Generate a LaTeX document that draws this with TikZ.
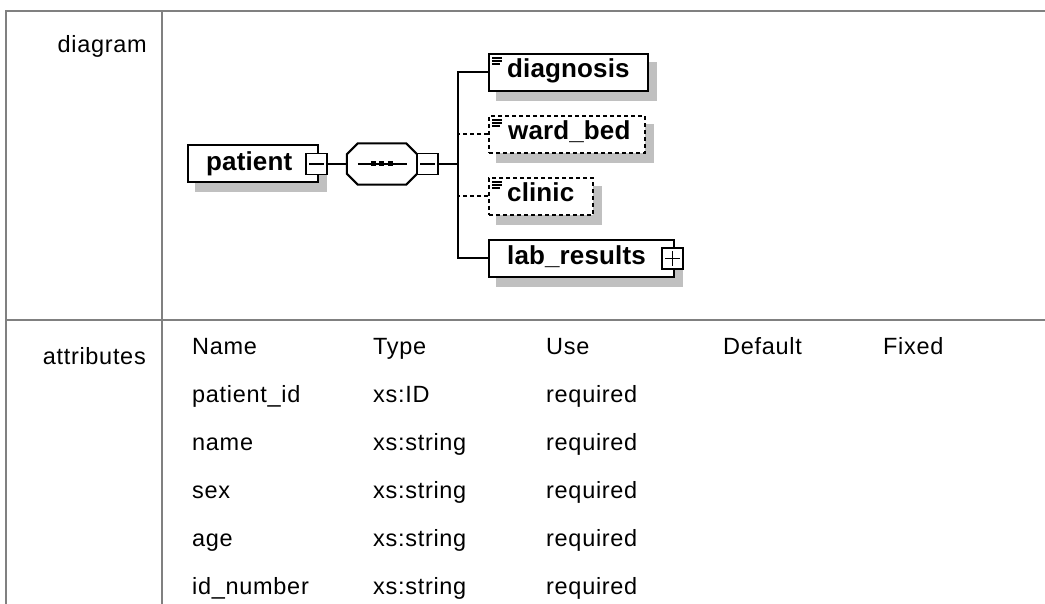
\documentclass[tikz,border=0pt]{standalone}
\usepackage{fontspec}
\setmainfont{Liberation Sans}
\newfontfamily\cellfamily[LetterSpace=3]{Liberation Sans}
\newfontfamily\elemfamily[LetterSpace=0.5]{Liberation Sans}
\usetikzlibrary{calc,backgrounds}
\definecolor{gridgray}{HTML}{808080}
\definecolor{shadowgray}{HTML}{C0C0C0}
\newcommand{\cellfont}{\cellfamily\fontsize{23.5}{28}\selectfont}
\newcommand{\elemfont}{\elemfamily\fontsize{26}{30}\selectfont\bfseries}
% grey drop shadow under a named box
\newcommand{\boxshade}[1]{\fill[shadowgray] ([shift={(8,9)}]#1.north west) rectangle ([shift={(8,9)}]#1.south east);}
% "simple content" mark in the top left corner of an element box
\newcommand{\contentmark}[1]{%
  \draw[markline] ($(#1.north west)+(4,5)$) -- +(10,0);
  \draw[markline] ($(#1.north west)+(4,8)$) -- +(10,0);
  \draw[markline] ($(#1.north west)+(4,11)$) -- +(8,0);}
\begin{document}
\begin{tikzpicture}[x=1pt,y=-1pt,
  grid/.style={draw=gridgray,line width=2.6pt},
  cell/.style={font=\cellfont,inner sep=0pt,anchor=base west},
  head/.style={font=\cellfont,inner sep=0pt,anchor=base east},
  elembox/.style={draw=black,line width=2pt,fill=white,minimum height=37pt,inner sep=0pt,anchor=west},
  optbox/.style={elembox,dash pattern=on 4pt off 3pt},
  elemtext/.style={font=\elemfont,inner sep=0pt,anchor=base west},
  pmbox/.style={draw=black,line width=1.7pt,fill=white,minimum size=21pt,inner sep=0pt},
  conn/.style={draw=black,line width=2pt},
  optconn/.style={conn,dash pattern=on 4pt off 3pt},
  markline/.style={draw=black,line width=1.2pt},
  seqline/.style={draw=black,line width=1.8pt}]
\useasboundingbox (0,0) rectangle (1045,604);

% table rules
\draw[grid] (1045,11) -- (6,11) -- (6,604);
\draw[grid] (162,11) -- (162,604);
\draw[grid] (6,320) -- (1045,320);

% row headings
\node[head] (hdiagram) at (147,53) {diagram};
\node[head] (hattr) at (146,364) {attributes};

% attribute table
\node[cell] (cname) at (192,354) {Name};
\node[cell] (ctype) at (373,354) {Type};
\node[cell] (cuse) at (546,354) {Use};
\node[cell] (cdef) at (723,354) {Default};
\node[cell] (cfix) at (883,354) {Fixed};
\foreach \n/\t [count=\i] in {patient\_id/xs:ID,name/xs:string,sex/xs:string,age/xs:string,id\_number/xs:string}{
  \node[cell] (an\i) at (192,354+48*\i) {\n};
  \node[cell] (at\i) at (373,354+48*\i) {\t};
  \node[cell] (au\i) at (546,354+48*\i) {required};
}

% element boxes
\node[elembox,minimum width=130pt] (patient) at (187,164) {};
\node[minimum width=70pt,minimum height=41pt,inner sep=0pt] (seq) at (382,164) {};
\node[elembox,minimum width=159pt] (diag) at (488,72.5) {};
\node[optbox,minimum width=156pt] (ward) at (488,134.5) {};
\node[optbox,minimum width=104pt] (clinic) at (488,196.5) {};
\node[elembox,minimum width=185pt] (lab) at (488,258.5) {};

% shadows
\begin{pgfonlayer}{background}
  \boxshade{patient}
  \boxshade{diag}
  \boxshade{ward}
  \boxshade{clinic}
  \boxshade{lab}
  \fill[shadowgray,shift={(8,9)}]
    ($(seq.north west)+(11,0)$) -- ($(seq.north east)+(-11,0)$) -- ($(seq.north east)+(0,11)$)
    -- ($(seq.south east)+(0,-11)$) -- ($(seq.south east)+(-11,0)$) -- ($(seq.south west)+(11,0)$)
    -- ($(seq.south west)+(0,-11)$) -- ($(seq.north west)+(0,11)$) -- cycle;
\end{pgfonlayer}

% sequence compositor
\draw[conn,fill=white]
  ($(seq.north west)+(11,0)$) -- ($(seq.north east)+(-11,0)$) -- ($(seq.north east)+(0,11)$)
  -- ($(seq.south east)+(0,-11)$) -- ($(seq.south east)+(-11,0)$) -- ($(seq.south west)+(11,0)$)
  -- ($(seq.south west)+(0,-11)$) -- ($(seq.north west)+(0,11)$) -- cycle;
\draw[seqline] ($(seq.west)+(11,0)$) -- ($(seq.east)+(-10,0)$);
\foreach \dx in {-9,-0.5,8}
  \fill ($(seq.center)+(\dx,0)+(-2.5,-2.5)$) rectangle +(5,5);

% labels
\node[elemtext] (tpatient) at (206,170.5) {patient};
\node[elemtext] (tdiag) at (507,78) {diagnosis};
\node[elemtext] (tward) at (508,140) {ward\_bed};
\node[elemtext] (tclinic) at (507,202) {clinic};
\node[elemtext] (tlab) at (507,264.5) {lab\_results};
\contentmark{diag}
\contentmark{ward}
\contentmark{clinic}

% expand / collapse buttons
\node[pmbox] (pm1) at (316.5,164) {};
\node[pmbox] (pm2) at (427.5,164) {};
\node[pmbox] (pm3) at (672.5,258.5) {};
\draw[markline] ($(pm1.west)+(4,0)$) -- ($(pm1.east)+(-4,0)$);
\draw[markline] ($(pm2.west)+(4,0)$) -- ($(pm2.east)+(-4,0)$);
\draw[markline] ($(pm3.west)+(4,0)$) -- ($(pm3.east)+(-4,0)$);
\draw[markline] ($(pm3.north)+(0,4)$) -- ($(pm3.south)+(0,-4)$);

% connectors
\coordinate (trunk) at (458,164);
\draw[conn] (pm1.east) -- (seq.west);
\draw[conn] (pm2.east) -- (trunk);
\draw[conn] (diag.west) -| (trunk);
\draw[conn] (lab.west) -| (trunk);
\draw[optconn] (ward.west) -- (ward.west -| trunk);
\draw[optconn] (clinic.west) -- (clinic.west -| trunk);
\end{tikzpicture}
\end{document}
